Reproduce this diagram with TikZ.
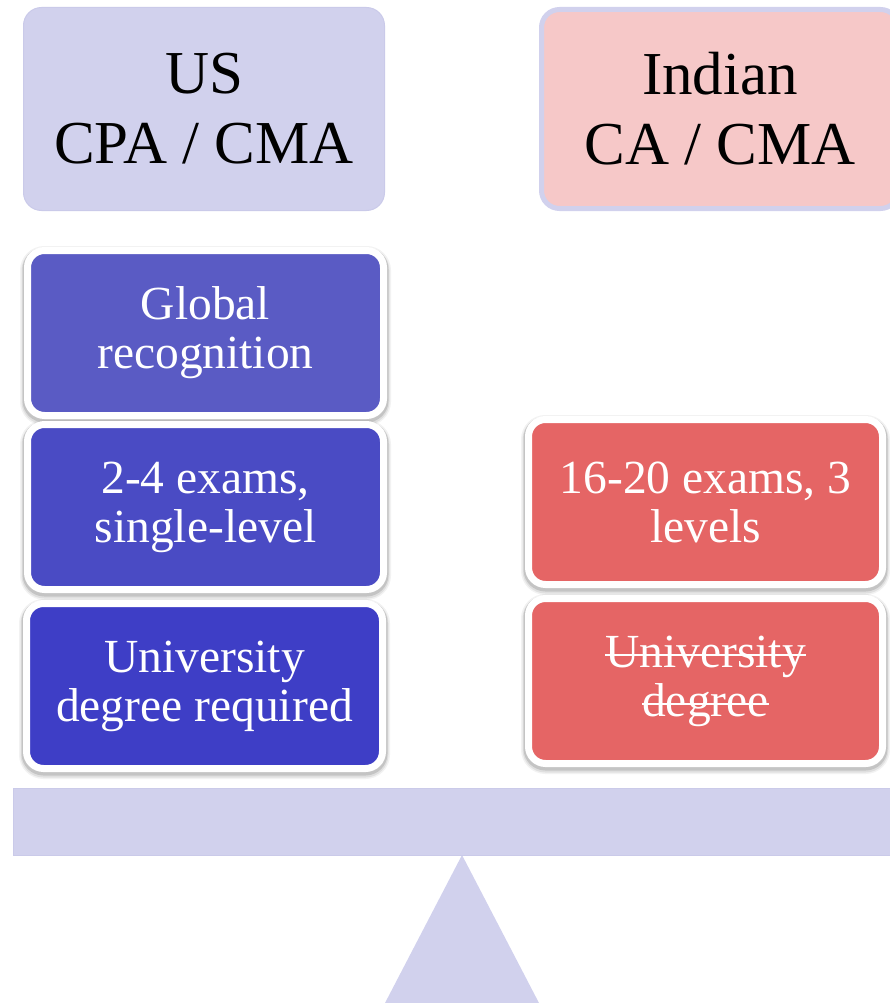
\documentclass[tikz,border=0pt]{standalone}
\usepackage{fontspec}
\setmainfont{Liberation Serif}
\definecolor{lav}{HTML}{D1D1ED}
\definecolor{lavline}{HTML}{CACAE9}
\definecolor{pinkfill}{HTML}{F6C8C8}
\definecolor{blueA}{HTML}{5A5BC4}
\definecolor{blueB}{HTML}{4A4BC4}
\definecolor{blueC}{HTML}{3E3EC6}
\definecolor{redbox}{HTML}{E56565}
\newcommand{\mystrike}[1]{\setbox0\hbox{#1}\rlap{\rule[11pt]{\wd0}{2pt}}\box0}
\begin{document}
\begin{tikzpicture}[x=1pt,y=-1pt,
  header/.style={rounded corners=18pt, minimum width=361pt, minimum height=203pt,
    inner sep=0pt, align=center, text=black, font=\fontsize{61}{70}\selectfont},
  softshadow/.style={
    preaction={draw=black, draw opacity=0.05, line width=15pt, transform canvas={yshift=-3pt}},
    preaction={draw=black, draw opacity=0.08, line width=12pt, transform canvas={yshift=-3pt}},
    preaction={draw=black, draw opacity=0.12, line width=10pt, transform canvas={yshift=-2pt}}},
  item/.style={rounded corners=17pt, draw=white, line width=7pt, minimum height=165pt,
    inner sep=0pt, align=center, text=white, font=\fontsize{47.5}{49}\selectfont, softshadow},
  leftitem/.style={item, minimum width=356pt},
  rightitem/.style={item, minimum width=354pt},
]
\useasboundingbox (0,0) rectangle (890,1003);
\clip (0,0) rectangle (890,1003);

% headers
\node[header, fill=lav, draw=lavline, line width=1pt] (us) at (204,109) {US\\CPA / CMA};
\node[header, fill=pinkfill, draw=lav, line width=5pt, minimum width=357pt, minimum height=199pt] (in) at (720,109) {Indian\\CA / CMA};

% left column
\node[leftitem, fill=blueA] (g1) at (205.5,333) {Global\\recognition};
\node[leftitem, fill=blueB] (g2) at (205.5,507) {2-4 exams,\\single-level};
\node[leftitem, fill=blueC] (g3) at (204.5,686) {University\\degree required};

% right column
\node[rightitem, fill=redbox] (r1) at (705.5,502) {16-20 exams, 3\\levels};
\node[rightitem, fill=redbox] (r2) at (705.5,681) {\mystrike{University}\\\mystrike{degree}};

% balance
\fill[lav] (462,855) -- (385,1003) -- (539,1003) -- cycle;
\node[fill=lav, draw=lavline, line width=1pt, minimum width=887pt, minimum height=67pt, inner sep=0pt] (beam) at (456.5,821.5) {};
\end{tikzpicture}
\end{document}
